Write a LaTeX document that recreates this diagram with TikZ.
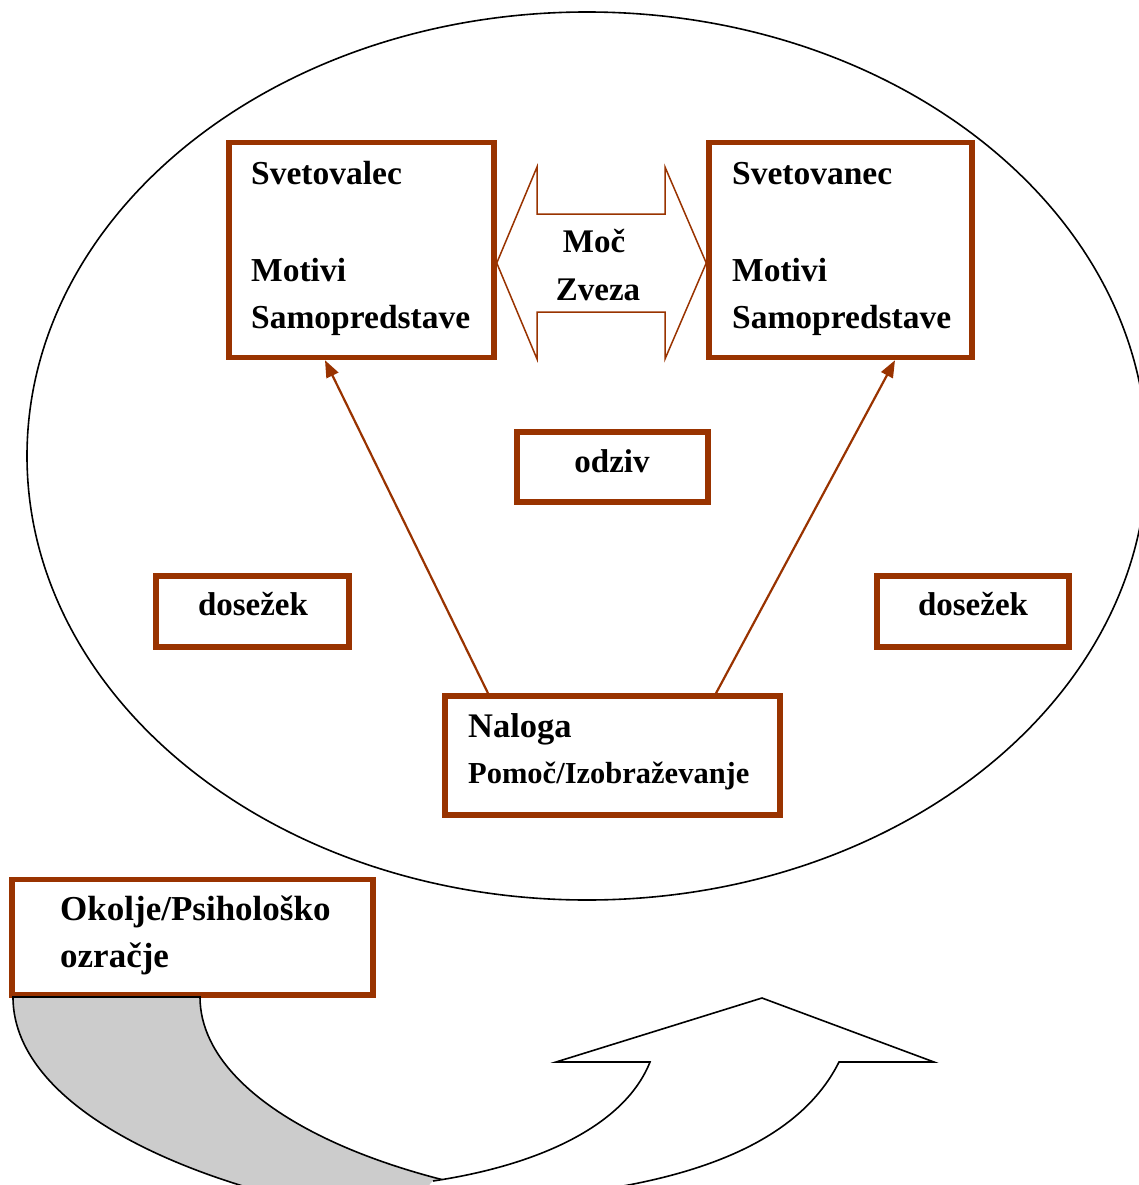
\documentclass[tikz,border=0pt]{standalone}
\usepackage{fontspec}
\setmainfont{Liberation Serif}
\usetikzlibrary{arrows.meta}
\definecolor{brn}{RGB}{153,51,0}
\definecolor{grayfill}{RGB}{204,204,204}
\begin{document}
\begin{tikzpicture}[x=1pt,y=-1pt,
  box/.style={draw=brn, line width=5.5pt, fill=white, inner sep=0pt},
  txt/.style={font=\fontsize{33.5}{40}\selectfont\bfseries, inner sep=0pt, anchor=base west},
  ctxt/.style={font=\fontsize{33}{40}\selectfont\bfseries, inner sep=0pt, anchor=base},
  arr/.style={draw=brn, line width=2.2pt, -{Triangle[length=17pt,width=13pt]}},
  dbl/.style={draw=brn, line width=1.5pt, fill=white, line join=miter},
  outl/.style={draw=black, line width=1.6pt}]
\useasboundingbox (0,0) rectangle (1139,1185);
\fill[white] (0,0) rectangle (1139,1185);
% big ellipse
\draw[line width=1.6pt] (587,456) ellipse [x radius=560pt, y radius=444pt];
% boxes
\node[box, minimum width=265pt, minimum height=215pt] (sv) at (361.5,250) {};
\node[box, minimum width=263pt, minimum height=215pt] (sn) at (840.5,250) {};
\node[box, minimum width=191pt, minimum height=70pt] (odz) at (612.5,467) {};
\node[box, minimum width=193pt, minimum height=71pt] (d1) at (252.5,611.5) {};
\node[box, minimum width=192pt, minimum height=71pt] (d2) at (973,611.5) {};
\node[box, minimum width=335pt, minimum height=119pt] (nal) at (612.5,755.5) {};
\node[box, minimum width=361pt, minimum height=115.5pt] (ok) at (192.5,937.25) {};
% connectors
\coordinate (xa) at (488,0);
\coordinate (xb) at (325,0);
\coordinate (xc) at (716,0);
\coordinate (xd) at (895,0);
\draw[arr] (nal.north -| xa) -- (sv.south -| xb);
\draw[arr] (nal.north -| xc) -- (sn.south -| xd);
% double arrow
\coordinate (ly) at (0,263);
\draw[dbl] (sv.east |- ly) -- (537,167) -- (537,214) -- (665,214) -- (665,167)
  -- (sn.west |- ly) -- (665,359) -- (665,312) -- (537,312) -- (537,359) -- cycle;
% bottom curved arrow
\begin{scope}
\clip (0,0) rectangle (1139,1185);
\filldraw[outl, fill=grayfill] (13,997) -- (200,997)
  .. controls (200,1115) and (423.8,1210) .. (700,1210) -- (600,1235)
  .. controls (290,1235) and (13,1135) .. (13,997) -- cycle;
\fill[white] (433,1181) .. controls (540,1165) and (625,1125) .. (650,1062)
  -- (556,1062) -- (762,998) -- (934,1062) -- (839,1062)
  .. controls (800,1140) and (700,1180) .. (560,1195) -- (420,1195) -- cycle;
\draw[outl, line join=miter] (433,1181) .. controls (540,1165) and (625,1125) .. (650,1062)
  -- (556,1062) -- (762,998) -- (934,1062) -- (839,1062)
  .. controls (800,1140) and (700,1180) .. (560,1195);
\end{scope}
% texts
\node[txt] (t1) at (251,185) {Svetovalec};
\node[txt] (t2) at (251,281) {Motivi};
\node[txt] (t3) at (251,328) {Samopredstave};
\node[txt] (t4) at (732,185) {Svetovanec};
\node[txt] (t5) at (732,281) {Motivi};
\node[txt] (t6) at (732,328) {Samopredstave};
\node[ctxt] (t7) at (594,252) {Moč};
\node[ctxt] (t8) at (598,300) {Zveza};
\node[ctxt] (t9) at (612,472) {odziv};
\node[ctxt] (t10) at (253,615) {dosežek};
\node[ctxt] (t11) at (973,615) {dosežek};
\node[txt, font=\fontsize{34.5}{40}\selectfont\bfseries] (t12) at (468,737) {Naloga};
\node[txt, font=\fontsize{30.5}{36}\selectfont\bfseries] (t13) at (468,783) {Pomoč/Izobraževanje};
\node[txt, font=\fontsize{35}{40}\selectfont\bfseries] (t14) at (60,920) {Okolje/Psihološko};
\node[txt, font=\fontsize{35}{40}\selectfont\bfseries] (t15) at (60,967) {ozračje};
\end{tikzpicture}
\end{document}
